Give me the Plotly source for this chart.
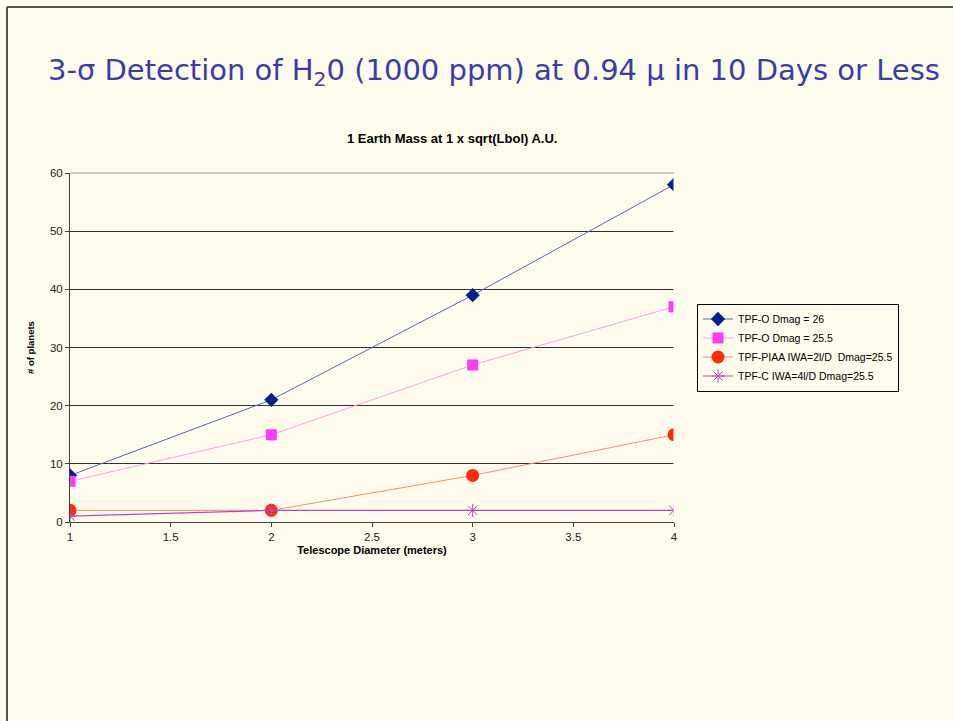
import plotly.graph_objects as go

diameters = [1, 2, 3, 4]
tpf_o_26 = [8, 21, 39, 58]
tpf_o_255 = [7, 15, 27, 37]
tpf_piaa = [2, 2, 8, 15]
tpf_c = [1, 2, 2, 2]

names = ["TPF-O Dmag = 26", "TPF-O Dmag = 25.5",
         "TPF-PIAA IWA=2l/D  Dmag=25.5", "TPF-C IWA=4l/D Dmag=25.5"]
x_ticks = [1, 1.5, 2, 2.5, 3, 3.5, 4]
y_ticks = [0, 10, 20, 30, 40, 50, 60]

BG = "#FDFBEC"
W, H = 953, 721
L, R, T, B = 70, 674, 173, 522
FONT = "Liberation Sans, Arial, sans-serif"

def px(xp):
    return (xp - L) / (R - L)

def py(yp):
    return (B - yp) / (B - T)

fig = go.Figure()
fig.add_trace(go.Scatter(x=diameters, y=tpf_o_26, name=names[0], mode="lines+markers",
                         line=dict(color="#5766B5", width=1),
                         marker=dict(symbol="diamond", size=11, color="#0A1E8C")))
fig.add_trace(go.Scatter(x=diameters, y=tpf_o_255, name=names[1], mode="lines+markers",
                         line=dict(color="#FF9CF5", width=1),
                         marker=dict(symbol="square", size=11, color="#FF3CF5")))
fig.add_trace(go.Scatter(x=diameters, y=tpf_piaa, name=names[2], mode="lines+markers",
                         line=dict(color="#FF8A70", width=1),
                         marker=dict(symbol="circle", size=13, color="#FF2A0A")))
fig.add_trace(go.Scatter(x=diameters, y=tpf_c, name=names[3], mode="lines+markers",
                         line=dict(color="#B84AB8", width=1.2),
                         marker=dict(symbol="asterisk-open", size=11,
                                     line=dict(color="#B050B0", width=1))))

fig.update_layout(
    width=W, height=H, autosize=False,
    paper_bgcolor=BG, plot_bgcolor=BG,
    margin=dict(l=L, r=W - R, t=T, b=H - B, pad=0),
    font=dict(family=FONT, color="#000000", size=10),
    showlegend=True,
    legend=dict(x=px(697), y=py(347.5), xanchor="left", yanchor="middle",
                bgcolor=BG, bordercolor="#000000", borderwidth=1,
                font=dict(size=10.5, family=FONT, color="#000000"),
                tracegroupgap=0, itemwidth=30),
    xaxis=dict(range=[1, 4], tickvals=x_ticks, ticktext=[str(v) for v in x_ticks],
               showgrid=False, zeroline=False, showline=True, linecolor="#404040",
               ticks="outside", ticklen=4, tickcolor="#404040",
               title=dict(text="<b>Telescope Diameter (meters)</b>", font=dict(size=11), standoff=4),
               tickfont=dict(size=11.5, color="#222222")),
    yaxis=dict(range=[0, 60], tickvals=y_ticks, showgrid=True, gridcolor="#303030", gridwidth=1,
               zeroline=False, showline=True, linecolor="#404040",
               ticks="outside", ticklen=4, tickcolor="#404040",
               title=dict(text="<b># of planets</b>", font=dict(size=9.5), standoff=13),
               tickfont=dict(size=11.5, color="#222222")),
    shapes=[
        dict(type="line", xref="paper", yref="paper", x0=1, x1=1, y0=0, y1=1,
             line=dict(color="#FFFFFF", width=1)),
        dict(type="line", xref="paper", yref="paper", x0=0, x1=1, y0=1, y1=1,
             line=dict(color="#B8B8B8", width=1.5)),
        dict(type="line", xref="paper", yref="paper", x0=px(7), x1=px(960),
             y0=py(7), y1=py(7), line=dict(color="#555555", width=2), layer="below"),
        dict(type="line", xref="paper", yref="paper", x0=px(7), x1=px(7),
             y0=py(7), y1=py(730), line=dict(color="#555555", width=2), layer="below"),
    ],
    annotations=[
        dict(text="3-σ Detection of H<sub>2</sub>0 (1000 ppm) at 0.94 μ in 10 Days or Less",
             xref="paper", yref="paper", x=px(46), y=py(72),
             xanchor="left", yanchor="middle", showarrow=False,
             font=dict(family="DejaVu Sans, sans-serif", size=29, color="#3C3CA8")),
        dict(text="<b>1 Earth Mass at 1 x sqrt(Lbol) A.U.</b>",
             xref="paper", yref="paper", x=px(452), y=py(138),
             xanchor="center", yanchor="middle", showarrow=False,
             font=dict(size=13, color="#000000")),
    ],
)

fig.write_html("out.html")
